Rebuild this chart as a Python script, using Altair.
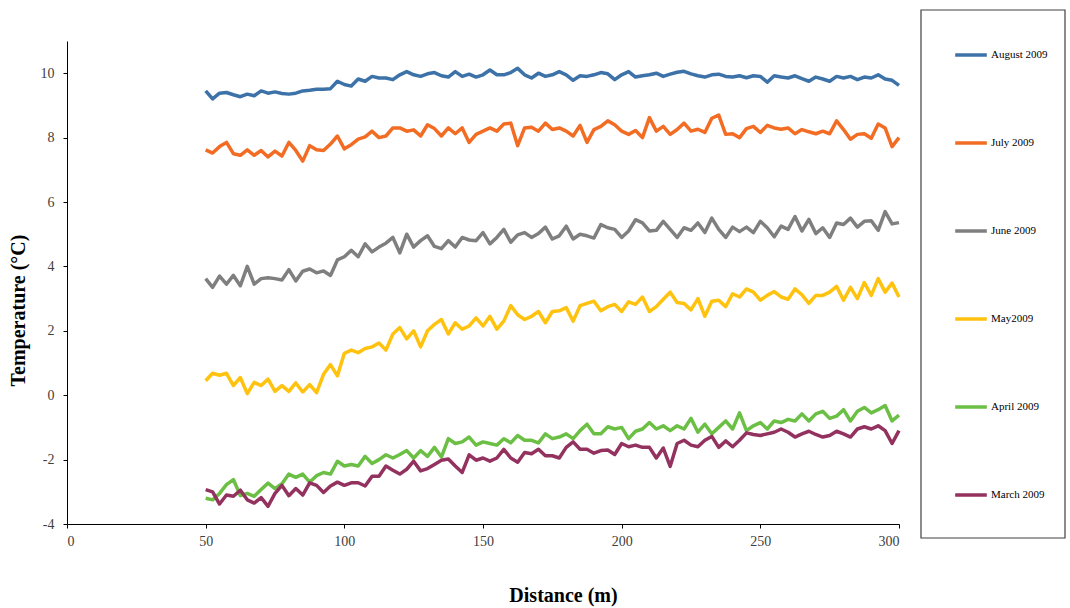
import altair as alt
import pandas as pd

# Distance sampling grid (m)
distance = [50 + 2.5 * i for i in range(101)]

august = [9.45, 9.2, 9.38, 9.4, 9.33, 9.27, 9.35, 9.3, 9.45, 9.38, 9.42, 9.37, 9.35, 9.38, 9.45, 9.47, 9.5, 9.5, 9.52, 9.75,
          9.65, 9.6, 9.82, 9.75, 9.9, 9.85, 9.85, 9.8, 9.95, 10.05, 9.95, 9.9, 9.98, 10.02, 9.92, 9.88, 10.05, 9.9, 9.97, 9.88,
          9.95, 10.1, 9.95, 9.95, 10.02, 10.15, 9.95, 9.85, 10.0, 9.9, 9.95,
          10.05, 9.95, 9.78, 9.92, 9.9, 9.95, 10.02, 9.98, 9.8, 9.95, 10.05, 9.88, 9.92, 9.95, 10.0, 9.9, 9.97, 10.03, 10.06, 9.98,
          9.92, 9.88, 9.95, 9.97, 9.9, 9.88, 9.92, 9.86, 9.92, 9.9, 9.72, 9.92, 9.88, 9.85, 9.92, 9.83, 9.75, 9.88, 9.82, 9.75,
          9.9, 9.85, 9.9, 9.8, 9.88, 9.85, 9.95, 9.82, 9.78, 9.62]

july = [7.62, 7.52, 7.72, 7.85, 7.5, 7.45, 7.62, 7.45, 7.6, 7.4, 7.58, 7.43, 7.85, 7.6, 7.27, 7.75, 7.62, 7.6, 7.8, 8.05,
        7.65, 7.78, 7.95, 8.02, 8.2, 8.0, 8.05, 8.3, 8.3, 8.2, 8.24, 8.05, 8.4, 8.28, 8.05, 8.3, 8.12, 8.3, 7.85, 8.1,
        8.2, 8.3, 8.2, 8.42, 8.45, 7.75, 8.3, 8.32, 8.2, 8.45, 8.25,
        8.3, 8.2, 8.05, 8.38, 7.85, 8.25, 8.35, 8.52, 8.4, 8.2, 8.1, 8.22, 8.0, 8.62, 8.2, 8.35, 8.1, 8.25, 8.45, 8.2,
        8.26, 8.16, 8.6, 8.7, 8.1, 8.12, 8.0, 8.28, 8.35, 8.16, 8.38, 8.3, 8.26, 8.3, 8.12, 8.25, 8.18, 8.12, 8.2, 8.12,
        8.52, 8.25, 7.95, 8.1, 8.12, 7.98, 8.42, 8.3, 7.72, 8.0]

june = [3.62, 3.35, 3.7, 3.45, 3.72, 3.4, 4.0, 3.45, 3.62, 3.65, 3.62, 3.58, 3.9, 3.55, 3.85, 3.92, 3.8, 3.86, 3.72, 4.2,
        4.3, 4.5, 4.3, 4.7, 4.45, 4.6, 4.72, 4.9, 4.42, 5.0, 4.6, 4.8, 4.95, 4.62, 4.55, 4.8, 4.6, 4.9, 4.82, 4.8,
        5.05, 4.7, 4.9, 5.15, 4.75, 4.98, 5.05, 4.9, 5.02, 5.22, 4.85,
        4.95, 5.25, 4.85, 5.0, 4.95, 4.88, 5.3, 5.2, 5.15, 4.9, 5.1, 5.45, 5.35, 5.1, 5.12, 5.4, 5.15, 4.9, 5.2, 5.12,
        5.35, 5.05, 5.5, 5.15, 4.9, 5.22, 5.08, 5.22, 5.05, 5.4, 5.2, 4.92, 5.25, 5.15, 5.55, 5.1, 5.46, 5.02, 5.2, 4.9,
        5.35, 5.3, 5.5, 5.22, 5.4, 5.42, 5.12, 5.7, 5.32, 5.36]

may = [0.45, 0.68, 0.62, 0.68, 0.3, 0.55, 0.05, 0.4, 0.3, 0.5, 0.12, 0.3, 0.12, 0.38, 0.1, 0.33, 0.08, 0.65, 0.95, 0.6,
       1.3, 1.4, 1.32, 1.45, 1.5, 1.62, 1.4, 1.9, 2.1, 1.75, 2.0, 1.5, 2.0, 2.2, 2.35, 1.9, 2.25, 2.05, 2.15, 2.4,
       2.15, 2.45, 2.05, 2.3, 2.78, 2.5, 2.35, 2.45, 2.6, 2.25, 2.6,
       2.62, 2.72, 2.3, 2.78, 2.85, 2.92, 2.62, 2.75, 2.82, 2.6, 2.9, 2.82, 3.05, 2.6, 2.75, 2.98, 3.2, 2.88, 2.85, 2.65,
       3.0, 2.45, 2.92, 2.95, 2.75, 3.15, 3.05, 3.3, 3.2, 2.95, 3.1, 3.22, 3.05, 2.98, 3.3, 3.12, 2.85, 3.1, 3.1, 3.2,
       3.38, 2.95, 3.35, 3.0, 3.5, 3.1, 3.62, 3.2, 3.48, 3.05]

april = [-3.2, -3.25, -3.05, -2.78, -2.62, -3.12, -3.05, -3.14, -2.93, -2.73, -2.9, -2.75, -2.45, -2.55, -2.45, -2.7, -2.5, -2.4, -2.45, -2.05,
         -2.2, -2.15, -2.2, -1.9, -2.12, -2.0, -1.85, -1.95, -1.84, -1.72, -1.95, -1.72, -1.9, -1.62, -1.92, -1.35, -1.5, -1.45, -1.3, -1.55,
         -1.45, -1.5, -1.55, -1.35, -1.48, -1.25, -1.4, -1.4, -1.48, -1.2, -1.35,
         -1.3, -1.2, -1.35, -1.1, -0.9, -1.2, -1.2, -0.98, -1.05, -1.0, -1.35, -1.12, -1.05, -0.85, -1.05, -0.95, -1.1, -0.95, -1.05, -0.72,
         -1.15, -0.9, -1.2, -1.0, -0.8, -1.05, -0.55, -1.1, -0.95, -0.85, -1.05, -0.8, -0.85, -0.75, -0.8, -0.58, -0.8, -0.58, -0.5, -0.72,
         -0.65, -0.45, -0.8, -0.5, -0.38, -0.55, -0.45, -0.32, -0.8, -0.62]

march = [-2.93, -3.0, -3.38, -3.1, -3.14, -2.95, -3.25, -3.35, -3.18, -3.45, -3.05, -2.8, -3.12, -2.9, -3.1, -2.72, -2.8, -3.02, -2.82, -2.7,
         -2.8, -2.72, -2.72, -2.82, -2.52, -2.52, -2.2, -2.33, -2.45, -2.3, -2.05, -2.35, -2.28, -2.15, -2.02, -1.98, -2.2, -2.4, -1.85, -2.02,
         -1.95, -2.05, -1.95, -1.68, -1.95, -2.08, -1.78, -1.82, -1.68, -1.88, -1.88,
         -1.95, -1.62, -1.45, -1.68, -1.68, -1.8, -1.72, -1.7, -1.84, -1.5, -1.6, -1.55, -1.62, -1.62, -1.95, -1.64, -2.21, -1.5, -1.4, -1.55,
         -1.6, -1.4, -1.28, -1.62, -1.42, -1.6, -1.4, -1.17, -1.22, -1.25, -1.2, -1.15, -1.05, -1.15, -1.3, -1.2, -1.12, -1.22, -1.3, -1.25,
         -1.12, -1.2, -1.3, -1.05, -0.98, -1.05, -0.95, -1.1, -1.5, -1.1]

series_names = ["August 2009", "July 2009", "June 2009", "May2009", "April 2009", "March 2009"]
series_colors = ["#3D72A8", "#F26C23", "#7F7F7F", "#FFC20E", "#6BBF44", "#93325F"]
series_values = [august, july, june, may, april, march]

x_ticks = [0, 50, 100, 150, 200, 250, 300]
y_ticks = [-4, -2, 0, 2, 4, 6, 8, 10]

rows = []
for name, vals in zip(series_names, series_values):
    for d, v in zip(distance, vals):
        rows.append({"Distance": d, "Temperature": v, "Series": name})
df = pd.DataFrame(rows)

W, H = 832, 483
SERIF = "Liberation Serif"

lines = alt.Chart(df).mark_line(strokeWidth=3.5, strokeJoin="round").encode(
    x=alt.X("Distance:Q",
            scale=alt.Scale(domain=[0, 300], nice=False, zero=False),
            axis=alt.Axis(values=x_ticks, title="Distance (m)", grid=False, labelPadding=6,
                          titleX=496, titleY=71, titleBaseline="middle", titleAlign="center")),
    y=alt.Y("Temperature:Q",
            scale=alt.Scale(domain=[-4, 11], nice=False, zero=False),
            axis=alt.Axis(values=y_ticks, title="Temperature (°C)", grid=False, labelPadding=9,
                          labelExpr="'' + datum.value",
                          titleX=-49, titleY=269, titleBaseline="middle", titleAlign="center")),
    color=alt.Color("Series:N",
                    scale=alt.Scale(domain=series_names, range=series_colors),
                    sort=series_names,
                    legend=alt.Legend(title=None, orient="none", legendX=886, legendY=-4,
                                      direction="vertical", symbolType="stroke",
                                      symbolSize=1000, symbolStrokeWidth=3.5,
                                      labelFont=SERIF, labelFontSize=11, labelColor="#000000",
                                      labelOffset=2, rowPadding=63, padding=0)),
    detail="Series:N",
)

box = alt.Chart(alt.Data(values=[{}])).mark_rect(
    filled=False, stroke="#404040", strokeWidth=1.2
).encode(
    x=alt.value(854), x2=alt.value(998), y=alt.value(-31), y2=alt.value(497)
)

chart = alt.layer(lines, box).properties(
    width=W, height=H,
    autosize=alt.AutoSizeParams(type="none"),
    padding={"left": 67, "top": 41, "right": 171, "bottom": 84},
    background="white",
).configure_view(stroke=None).configure_axis(
    domainColor="#000000", domainWidth=1, tickColor="#000000", tickSize=4,
    labelFont=SERIF, labelFontSize=14, labelColor="#404040",
    titleFont=SERIF, titleFontSize=20, titleFontWeight="bold", titleColor="#000000",
)

chart.save("out.html", embed_options={"renderer": "svg", "actions": False})
